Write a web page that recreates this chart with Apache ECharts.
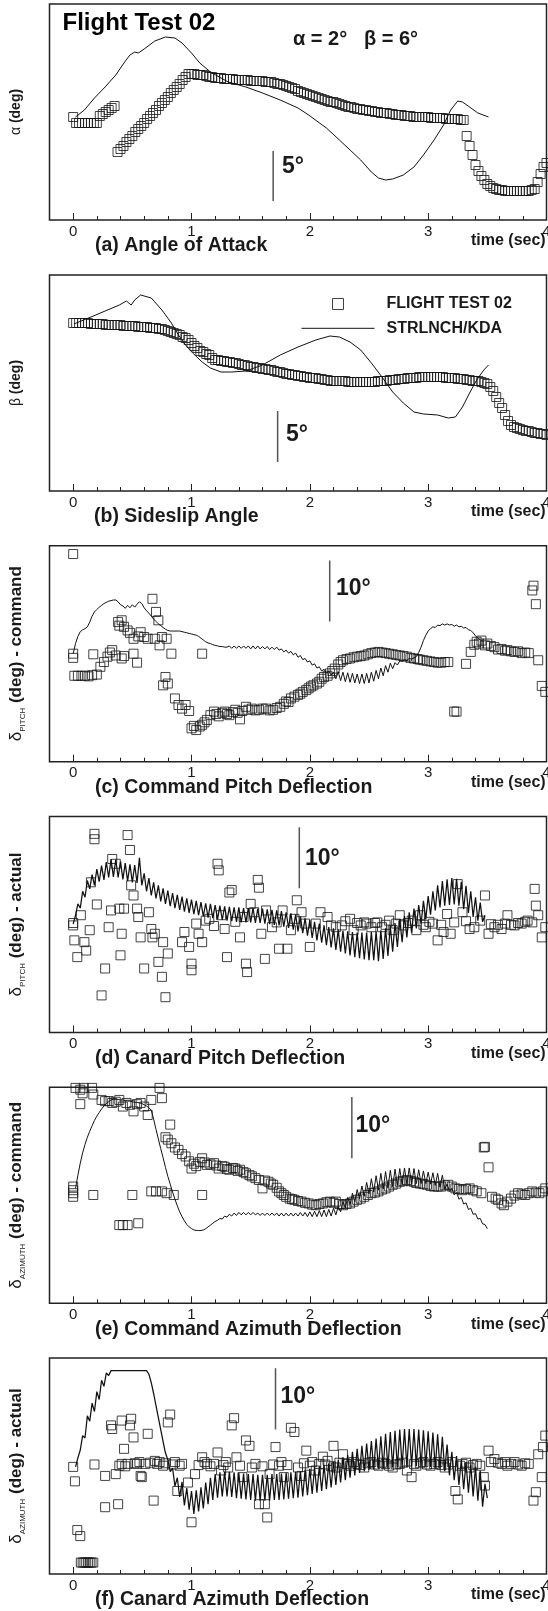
<!DOCTYPE html>
<html>
<head>
<meta charset="utf-8">
<script src="https://cdn.jsdelivr.net/npm/echarts@6.0.0/dist/echarts.min.js"></script>
<style>
  html, body { margin: 0; padding: 0; background: #fff; }
  #main { width: 548px; height: 1611px; }
</style>
</head>
<body>
<div id="main"></div>
<script>
// ---- data (time in sec, angles in deg, relative offsets) ----
var tickMajor = [0, 1, 2, 3, 4];
var tickMinor = [0, 0.2, 0.4, 0.6, 0.8, 1, 1.2, 1.4, 1.6, 1.8, 2, 2.2, 2.4, 2.6, 2.8, 3, 3.2, 3.4, 3.6, 3.8, 4];

// (a) alpha and (b) beta flight data, sampled every 0.025 s from t = 0
var sqT0 = 0, sqDt = 0.025;
var sqA = [10.3, 9.7, 9.7, 9.7, 9.7, 9.7, 9.7, 9.7, 9.7, 10.4, 10.6, 10.8, 11.0, 11.2, 11.4,
  6.8, 7.1, 7.4, 7.8, 8.1, 8.4, 8.8, 9.1, 9.4, 9.7, 10.1, 10.4, 10.7, 11.0, 11.4, 11.7, 12.0, 12.3, 12.7, 13.0, 13.3, 13.6, 14.0, 14.3, 14.6,
  14.6, 14.6, 14.5, 14.5, 14.5, 14.4, 14.3, 14.3, 14.2,
  14.2, 14.2, 14.1, 14.1, 14.1, 14.1, 14.0, 14.0, 14.0, 14.0, 14.0, 13.9,
  13.9, 13.9, 13.9, 13.9, 13.8, 13.8, 13.8, 13.7,
  13.6, 13.6, 13.5, 13.4, 13.3, 13.2, 13.1, 12.9, 12.8, 12.7, 12.6, 12.5, 12.4, 12.3, 12.2, 12.1, 12.0, 11.9, 11.8, 11.8, 11.7, 11.6, 11.5, 11.4, 11.3, 11.3, 11.2, 11.1, 11.1, 11.0, 11.0, 10.9,
  10.9, 10.8, 10.8, 10.7, 10.7, 10.7, 10.6, 10.6, 10.5, 10.5, 10.5, 10.4, 10.4, 10.4, 10.3, 10.3, 10.3, 10.3, 10.3, 10.3, 10.2, 10.2, 10.2, 10.2, 10.2, 10.1, 10.1, 10.1, 10.1, 10.1, 10.0, 10.0,
  8.4, 7.4, 6.5, 5.5, 4.9, 4.4, 4.0, 3.6, 3.4, 3.2, 3.1, 3.0,
  3.0, 2.9, 2.9, 2.9, 2.9, 2.9, 2.9, 2.9, 2.9, 2.9, 3.0,
  3.1, 3.8, 4.6, 5.3, 5.7];
var sqB = [16.8, 16.8, 16.8, 16.8, 16.8, 16.8, 16.7, 16.7, 16.7, 16.7, 16.7, 16.6, 16.6, 16.6, 16.6, 16.6, 16.6,
  16.5, 16.5, 16.5, 16.5, 16.5, 16.4, 16.4, 16.4, 16.4, 16.3, 16.3, 16.3, 16.2, 16.2, 16.1, 16.0,
  15.9, 15.8, 15.7, 15.6, 15.4, 15.3, 15.1, 14.8,
  14.5, 14.3, 14.0, 13.9, 13.7, 13.6, 13.3, 13.1,
  13.1, 13.0, 13.0, 12.9, 12.9, 12.8, 12.8, 12.7, 12.6, 12.6, 12.5, 12.4, 12.4, 12.3, 12.3, 12.2, 12.2, 12.1, 12.1, 12.0,
  11.9, 11.9, 11.8, 11.7, 11.7, 11.6, 11.6, 11.5, 11.5, 11.4, 11.4, 11.3, 11.3, 11.3, 11.2, 11.2, 11.1, 11.1, 11.0, 11.0,
  11.0, 11.0, 11.0, 11.0, 10.9, 10.9, 10.9, 10.9, 10.9, 10.9, 10.9, 10.9, 10.9, 10.9, 11.0, 11.0, 11.0, 11.0, 11.1, 11.1,
  11.1, 11.2, 11.2, 11.2, 11.3, 11.3, 11.3, 11.3, 11.4, 11.4, 11.4, 11.4, 11.4, 11.4, 11.4, 11.4, 11.4, 11.3, 11.3, 11.3,
  11.3, 11.2, 11.2, 11.2, 11.1, 11.1, 11.0, 11.0, 11.0, 10.9, 10.8, 10.7,
  10.4, 10.0, 9.4, 8.8, 8.3, 7.6, 7.0, 6.6,
  6.4, 6.3, 6.2, 6.1, 6.0, 6.0, 5.9, 5.8, 5.8, 5.7, 5.7, 5.6];

// (a), (b) STRLNCH/KDA simulation [t, deg]
var lineA = [[0.02, 10.3], [0.095, 11.0], [0.18, 12.2], [0.27, 13.3], [0.36, 14.5], [0.435, 15.8], [0.48, 16.5], [0.52, 16.8], [0.55, 16.7], [0.6, 17.1], [0.69, 17.9], [0.78, 18.3], [0.86, 18.2], [0.92, 17.7], [1.0, 16.7], [1.07, 15.7], [1.16, 14.8], [1.31, 13.8], [1.46, 13.3], [1.6, 12.7], [1.75, 12.0], [1.9, 11.2], [1.99, 10.5], [2.14, 9.2], [2.25, 8.0], [2.34, 7.0], [2.43, 6.0], [2.52, 4.8], [2.58, 4.2], [2.64, 4.0], [2.7, 4.1], [2.79, 4.5], [2.88, 5.3], [2.96, 6.5], [3.05, 8.0], [3.13, 9.5], [3.19, 11.0], [3.25, 11.9], [3.29, 11.8], [3.35, 11.3], [3.42, 10.7], [3.51, 10.3]];
var lineB = [[0.006, 16.7], [0.15, 17.4], [0.27, 18.0], [0.39, 18.6], [0.45, 19.0], [0.49, 18.6], [0.52, 19.1], [0.57, 19.6], [0.66, 19.3], [0.75, 18.1], [0.83, 16.8], [0.89, 15.6], [0.95, 14.6], [1.01, 13.8], [1.09, 12.9], [1.16, 12.3], [1.25, 11.9], [1.34, 11.9], [1.46, 12.0], [1.6, 12.6], [1.75, 13.6], [1.9, 14.4], [2.05, 15.1], [2.17, 15.5], [2.25, 15.4], [2.34, 14.9], [2.43, 14.1], [2.52, 12.8], [2.61, 11.4], [2.7, 9.9], [2.79, 8.8], [2.88, 7.9], [2.96, 7.7], [3.08, 7.6], [3.17, 7.3], [3.23, 7.4], [3.29, 8.4], [3.35, 9.8], [3.41, 11.1], [3.47, 12.1], [3.51, 12.6]];

// (c)-(f) flight data [t, deg]
var sqC = [[0, 34.8], [0, 18.1], [0, 17.4], [0.01, 14.4], [0.04, 14.4], [0.07, 14.4], [0.1, 14.4], [0.13, 14.3], [0.16, 14.5], [0.17, 18.0], [0.2, 14.6], [0.23, 15.9], [0.26, 16.7], [0.29, 17.6], [0.31, 18.3], [0.33, 18.7], [0.36, 17.8], [0.38, 23.4], [0.39, 22.8], [0.41, 23.7], [0.41, 17.3], [0.43, 22.6], [0.43, 17.7], [0.46, 22.0], [0.48, 21.6], [0.51, 20.6], [0.51, 18.1], [0.54, 16.6], [0.55, 21.0], [0.57, 21.7], [0.6, 20.9], [0.63, 20.6], [0.67, 27.3], [0.69, 20.6], [0.7, 25.1], [0.72, 23.7], [0.73, 19.5], [0.75, 20.9], [0.76, 12.8], [0.78, 14.2], [0.79, 20.6], [0.8, 13.1], [0.83, 18.1], [0.86, 10.6], [0.89, 9.5], [0.92, 8.9], [0.95, 9.5], [0.98, 8.5], [1.0, 5.6], [1.02, 6.0], [1.04, 5.3], [1.07, 5.9], [1.09, 6.2], [1.09, 18.1], [1.11, 6.6], [1.13, 7.0], [1.16, 7.8], [1.19, 8.4], [1.21, 8.0], [1.23, 7.6], [1.26, 8.2], [1.28, 8.4], [1.3, 8.0], [1.32, 7.8], [1.35, 8.3], [1.37, 8.7], [1.39, 8.2], [1.41, 7.1], [1.43, 8.5], [1.46, 9.2], [1.48, 8.7], [1.51, 8.9], [1.54, 8.6], [1.57, 8.7], [1.6, 8.9], [1.63, 8.9], [1.66, 8.6], [1.69, 8.7], [1.72, 9.0], [1.75, 9.2], [1.78, 9.7], [1.8, 10.1], [1.82, 10.0], [1.84, 10.6], [1.87, 10.9], [1.9, 11.2], [1.92, 11.4], [1.94, 11.7], [1.97, 12.0], [1.99, 12.3], [2.01, 12.6], [2.03, 12.8], [2.06, 13.1], [2.08, 13.4], [2.1, 13.9], [2.12, 14.2], [2.15, 14.4], [2.17, 14.8], [2.19, 15.2], [2.21, 15.6], [2.24, 16.3], [2.26, 16.7], [2.28, 17.0], [2.31, 17.2], [2.34, 17.3], [2.37, 17.5], [2.4, 17.6], [2.43, 17.7], [2.46, 17.8], [2.49, 18.0], [2.52, 18.2], [2.55, 18.3], [2.58, 18.4], [2.61, 18.3], [2.64, 18.2], [2.67, 18.1], [2.7, 18.0], [2.73, 17.9], [2.76, 17.8], [2.79, 17.7], [2.82, 17.6], [2.85, 17.4], [2.88, 17.3], [2.91, 17.2], [2.93, 17.1], [2.96, 17.0], [2.99, 16.9], [3.02, 16.8], [3.05, 16.7], [3.08, 16.6], [3.11, 16.6], [3.14, 16.7], [3.17, 16.7], [3.22, 8.4], [3.24, 8.4], [3.32, 16.4], [3.36, 18.4], [3.39, 19.6], [3.41, 20.1], [3.43, 19.8], [3.45, 20.3], [3.48, 19.5], [3.5, 19.8], [3.53, 19.4], [3.56, 19.2], [3.59, 18.8], [3.62, 18.9], [3.65, 18.6], [3.67, 18.7], [3.7, 18.5], [3.73, 18.4], [3.76, 18.5], [3.79, 18.2], [3.82, 18.3], [3.85, 18.2], [3.88, 28.7], [3.89, 29.5], [3.91, 26.4], [3.93, 17.0], [3.96, 12.7], [3.99, 11.7]];
var sqD = [[0, 17.9], [0, 18.3], [0.01, 15.4], [0.035, 12.6], [0.065, 19.6], [0.095, 15.1], [0.11, 13.7], [0.14, 17.1], [0.15, 25.1], [0.18, 33.2], [0.18, 32.3], [0.2, 21.4], [0.24, 6.2], [0.27, 10.7], [0.3, 17.6], [0.32, 20.4], [0.33, 29.0], [0.36, 28.2], [0.39, 20.7], [0.4, 12.9], [0.41, 16.5], [0.43, 20.7], [0.46, 33.0], [0.48, 30.5], [0.49, 24.6], [0.51, 22.9], [0.54, 20.7], [0.55, 19.3], [0.57, 15.9], [0.6, 10.7], [0.64, 20.1], [0.66, 17.3], [0.67, 15.9], [0.69, 16.5], [0.72, 11.8], [0.75, 9.3], [0.76, 15.1], [0.78, 5.9], [0.8, 13.2], [0.92, 15.1], [0.94, 16.8], [0.98, 14.3], [1.0, 11.5], [1.0, 10.4], [1.04, 18.2], [1.06, 16.5], [1.09, 15.1], [1.12, 18.7], [1.15, 19.0], [1.19, 17.8], [1.22, 28.2], [1.23, 27.1], [1.25, 19.6], [1.28, 17.3], [1.3, 12.6], [1.32, 23.4], [1.34, 23.8], [1.37, 18.5], [1.41, 15.9], [1.44, 19.3], [1.46, 11.5], [1.47, 10.1], [1.5, 21.5], [1.53, 20.1], [1.56, 25.5], [1.57, 24.2], [1.59, 16.5], [1.62, 12.3], [1.63, 20.4], [1.68, 17.6], [1.72, 18.4], [1.74, 14.0], [1.77, 20.4], [1.81, 14.0], [1.84, 17.1], [1.87, 19.0], [1.89, 22.1], [1.93, 20.1], [1.96, 18.2], [2.0, 14.3], [2.05, 18.2], [2.09, 20.1], [2.15, 19.3], [2.18, 17.9], [2.22, 17.6], [2.27, 17.9], [2.3, 18.6], [2.34, 19.0], [2.37, 17.1], [2.4, 18.3], [2.43, 17.9], [2.46, 18.4], [2.48, 18.2], [2.52, 17.6], [2.55, 18.3], [2.57, 18.4], [2.61, 17.6], [2.64, 18.0], [2.67, 18.7], [2.7, 17.1], [2.73, 18.2], [2.76, 19.6], [2.79, 17.9], [2.83, 18.3], [2.86, 18.7], [2.9, 17.1], [2.93, 19.6], [2.96, 18.0], [2.98, 17.6], [3.01, 18.5], [3.04, 18.2], [3.08, 15.4], [3.11, 18.0], [3.13, 16.8], [3.16, 19.8], [3.19, 16.5], [3.22, 18.4], [3.25, 24.8], [3.29, 20.1], [3.32, 18.6], [3.35, 17.3], [3.39, 17.6], [3.44, 18.7], [3.48, 22.9], [3.51, 16.5], [3.53, 18.1], [3.56, 17.6], [3.59, 18.0], [3.62, 17.3], [3.65, 18.2], [3.67, 19.6], [3.7, 18.0], [3.73, 17.9], [3.76, 18.3], [3.79, 18.2], [3.82, 18.5], [3.84, 18.7], [3.88, 18.4], [3.9, 24.0], [3.91, 21.2], [3.93, 19.6], [3.96, 15.9], [3.99, 17.6]];
var sqE = [[0, 19.4], [0, 18.8], [0, 18.3], [0, 17.7], [0.02, 35.8], [0.06, 35.5], [0.09, 35.8], [0.16, 35.8], [0.06, 33.1], [0.08, 34.9], [0.17, 34.7], [0.17, 18.0], [0.24, 33.8], [0.27, 33.6], [0.3, 33.6], [0.33, 33.3], [0.36, 33.5], [0.39, 33.8], [0.42, 32.7], [0.45, 33.3], [0.48, 33.0], [0.5, 18.0], [0.51, 31.9], [0.54, 33.1], [0.57, 33.3], [0.6, 32.7], [0.63, 31.3], [0.66, 33.8], [0.66, 18.6], [0.7, 18.6], [0.73, 35.8], [0.75, 34.1], [0.75, 18.6], [0.79, 18.3], [0.85, 18.0], [1.09, 18.0], [0.39, 13.0], [0.42, 13.0], [0.46, 13.0], [0.55, 13.3], [0.82, 29.7], [0.78, 27.6], [0.8, 27.2], [0.83, 26.6], [0.86, 25.9], [0.89, 25.5], [0.92, 24.8], [0.95, 24.4], [0.98, 23.6], [1.0, 22.4], [1.02, 23.2], [1.04, 22.8], [1.07, 23.5], [1.09, 24.1], [1.11, 23.4], [1.13, 23.0], [1.16, 23.1], [1.19, 23.3], [1.21, 22.9], [1.23, 22.4], [1.26, 22.8], [1.28, 22.7], [1.3, 22.3], [1.32, 22.2], [1.35, 22.5], [1.37, 22.4], [1.39, 22.0], [1.41, 22.2], [1.44, 21.8], [1.46, 21.6], [1.49, 21.3], [1.51, 21.1], [1.54, 20.8], [1.57, 20.5], [1.6, 19.1], [1.62, 20.4], [1.65, 20.2], [1.67, 19.9], [1.69, 19.7], [1.72, 19.2], [1.74, 18.6], [1.76, 18.3], [1.78, 18.0], [1.8, 17.7], [1.83, 17.4], [1.85, 17.3], [1.87, 17.2], [1.9, 17.0], [1.93, 16.9], [1.96, 16.7], [1.99, 16.6], [2.02, 16.4], [2.05, 16.3], [2.08, 16.5], [2.11, 16.6], [2.14, 16.8], [2.17, 16.9], [2.2, 16.7], [2.22, 16.9], [2.25, 16.5], [2.28, 16.3], [2.31, 16.5], [2.34, 16.6], [2.37, 16.9], [2.4, 17.2], [2.43, 17.4], [2.46, 17.7], [2.49, 18.0], [2.52, 18.3], [2.55, 18.4], [2.58, 18.6], [2.61, 18.9], [2.64, 19.1], [2.67, 19.4], [2.7, 19.7], [2.73, 19.9], [2.76, 20.2], [2.79, 20.3], [2.82, 20.5], [2.85, 20.3], [2.88, 20.2], [2.9, 20.0], [2.93, 19.9], [2.96, 19.8], [2.99, 19.7], [3.02, 19.5], [3.05, 19.4], [3.08, 19.4], [3.11, 19.4], [3.14, 19.6], [3.17, 19.7], [3.2, 19.4], [3.23, 19.1], [3.26, 19.0], [3.29, 18.8], [3.32, 19.0], [3.35, 19.1], [3.38, 18.8], [3.41, 18.6], [3.45, 18.3], [3.47, 25.9], [3.48, 26.0], [3.51, 22.6], [3.54, 17.7], [3.57, 17.4], [3.59, 17.2], [3.62, 16.6], [3.64, 16.3], [3.67, 16.9], [3.7, 17.4], [3.73, 17.9], [3.76, 18.3], [3.79, 18.1], [3.82, 18.0], [3.85, 18.3], [3.88, 18.6], [3.91, 18.4], [3.94, 18.3], [3.97, 18.6], [3.99, 19.1]];
var sqF = [[0, 17.8], [0.015, 15.4], [0.035, 7.3], [0.06, 6.3], [0.065, 1.9], [0.08, 1.9], [0.095, 1.9], [0.11, 1.9], [0.125, 1.9], [0.14, 1.9], [0.155, 1.9], [0.17, 1.9], [0.18, 18.2], [0.27, 11.1], [0.27, 16.3], [0.32, 24.7], [0.33, 24.1], [0.36, 16.6], [0.38, 11.6], [0.39, 18.0], [0.41, 18.3], [0.41, 25.5], [0.43, 20.8], [0.44, 17.9], [0.46, 18.3], [0.48, 24.7], [0.49, 25.8], [0.51, 22.7], [0.52, 18.4], [0.54, 18.3], [0.56, 18.6], [0.57, 16.3], [0.58, 16.1], [0.61, 18.3], [0.63, 23.3], [0.65, 18.5], [0.68, 12.2], [0.69, 18.8], [0.71, 18.3], [0.73, 18.6], [0.76, 18.0], [0.78, 18.4], [0.8, 25.2], [0.82, 26.5], [0.84, 18.2], [0.86, 18.6], [0.88, 13.8], [0.9, 18.0], [0.92, 18.3], [0.97, 15.2], [1.0, 8.6], [1.03, 16.6], [1.06, 18.1], [1.09, 19.4], [1.11, 18.6], [1.13, 18.3], [1.16, 17.9], [1.19, 18.3], [1.22, 20.2], [1.25, 17.2], [1.27, 18.1], [1.29, 18.6], [1.31, 17.7], [1.34, 24.7], [1.36, 25.9], [1.38, 19.4], [1.41, 18.0], [1.43, 16.1], [1.46, 22.2], [1.49, 21.3], [1.51, 17.7], [1.54, 18.3], [1.57, 11.6], [1.6, 17.9], [1.62, 11.6], [1.64, 9.4], [1.66, 16.6], [1.69, 18.2], [1.71, 21.1], [1.74, 18.0], [1.76, 18.6], [1.78, 16.1], [1.81, 18.1], [1.84, 24.3], [1.87, 23.6], [1.9, 17.7], [1.93, 16.3], [1.95, 18.4], [1.97, 20.5], [2.0, 18.0], [2.02, 18.6], [2.05, 17.2], [2.08, 18.3], [2.11, 19.5], [2.13, 18.2], [2.15, 18.8], [2.18, 17.9], [2.2, 21.3], [2.22, 17.7], [2.25, 18.5], [2.28, 19.9], [2.31, 18.3], [2.34, 18.0], [2.37, 18.6], [2.4, 18.3], [2.43, 18.1], [2.46, 17.7], [2.49, 18.4], [2.52, 18.6], [2.55, 18.2], [2.58, 18.0], [2.61, 18.5], [2.64, 18.3], [2.67, 18.0], [2.7, 17.7], [2.73, 18.2], [2.76, 18.3], [2.79, 18.5], [2.82, 17.2], [2.86, 16.1], [2.88, 18.3], [2.9, 18.0], [2.93, 18.4], [2.96, 18.6], [2.99, 18.2], [3.02, 18.0], [3.05, 18.3], [3.08, 18.6], [3.11, 18.1], [3.14, 17.7], [3.17, 18.2], [3.2, 18.6], [3.23, 13.8], [3.25, 12.4], [3.27, 18.0], [3.29, 18.3], [3.32, 18.5], [3.35, 17.7], [3.38, 18.1], [3.41, 18.3], [3.44, 18.0], [3.47, 16.1], [3.48, 14.7], [3.51, 20.5], [3.53, 18.6], [3.56, 19.1], [3.59, 18.5], [3.62, 18.3], [3.65, 18.6], [3.67, 18.0], [3.7, 18.3], [3.73, 18.6], [3.76, 18.2], [3.79, 18.0], [3.82, 18.4], [3.85, 18.3], [3.89, 12.2], [3.91, 13.6], [3.93, 19.9], [3.96, 16.1], [3.97, 21.1], [3.99, 23.0]];

// (c)-(f) simulation, sampled every 0.02 s
var lnDt = 0.02;
var lineCT0 = 0;
var lineC = [18.1, 19.8, 21.0, 21.8, 22.1, 22.3, 22.6, 23.4, 24.4, 25.1, 25.5, 25.9, 26.2, 26.5, 26.7, 26.9, 27.0, 27.1, 27.1, 26.8, 26.3,
  26.1, 25.7, 26.2, 25.8, 26.3, 25.9, 26.4, 26.8, 26.5, 25.8, 25.3, 24.9, 24.4, 23.9, 23.5, 23.1, 22.8, 22.5, 22.2, 22.0,
  21.9, 21.9, 21.9, 21.9, 21.9, 21.8, 21.7, 21.6, 21.5, 21.4, 21.3, 21.2, 21.0, 20.7, 20.4, 20.1, 19.9, 19.8,
  19.6, 19.5, 19.4, 19.3, 19.3, 19.2, 19.2,
  19.4, 19.0, 19.4, 19.0, 19.4, 19.0, 19.4, 19.0, 19.4, 18.9, 19.4, 18.9, 19.4, 18.9, 19.3, 18.9, 19.3, 18.8, 19.2, 18.8, 19.2, 18.7,
  18.9, 18.4, 18.7, 18.2, 18.5, 17.9, 18.2, 17.5, 17.8, 17.1, 17.3, 16.7, 16.9, 16.2, 16.4, 15.7, 15.9, 15.2, 15.5, 14.8, 15.2, 14.5, 15.0,
  13.9, 15.1, 13.6, 15.0, 13.4, 14.9, 13.3, 14.8, 13.2, 14.7, 13.1, 14.7, 13.1, 14.8, 13.2, 15.0, 13.5, 15.3, 13.9, 15.7, 14.4, 16.1, 15.0, 16.5, 15.6,
  16.6, 16.2, 16.9, 16.8, 17.1, 17.0, 17.3, 17.2, 17.4, 17.6, 18.3, 19.2, 20.3, 21.2,
  21.9, 22.3, 22.6, 22.5, 22.9, 22.8, 23.1, 22.9, 23.1, 22.9, 23.0, 22.7, 22.9, 22.6, 22.7, 22.4, 22.5, 22.1, 22.0,
  21.6, 21.1, 20.7, 20.4, 20.2];
var lineDT0 = 0;
var lineD = [18.1, 19.6, 21.5, 20.8, 23.6, 22.6, 25.4, 24.0, 26.4, 24.6, 27.3,
  25.2, 27.9, 25.5, 28.5, 25.9, 29.0, 26.0, 28.9, 25.9, 28.6, 25.6, 28.3, 25.3, 28.1, 25.1, 28.0, 25.0, 29.2, 24.6,
  26.6, 23.6, 25.8, 22.9, 25.1, 22.4, 24.6, 21.9, 24.1, 21.5, 23.7, 21.1, 23.3, 20.8, 23.0, 20.5, 22.7, 20.2, 22.4, 20.0, 22.2,
  19.8, 22.0, 19.6, 21.8, 19.4, 21.6, 19.2, 21.5, 19.1, 21.3, 18.9, 21.2, 18.8, 21.1, 18.7, 21.0, 18.6, 20.9, 18.5, 20.9, 18.4, 20.8, 18.4, 20.8, 18.4,
  20.8, 18.3, 20.7, 18.3, 20.7, 18.2, 20.6, 18.1, 20.5, 18.0, 20.4, 17.9, 20.3, 17.7, 20.1, 17.5, 19.9, 17.2, 19.7, 16.9, 19.4, 16.6, 19.1, 16.2, 18.8,
  15.8, 18.5, 15.4, 18.2, 15.0, 17.9, 14.6, 17.6, 14.2, 17.4, 13.8, 17.2, 13.5, 17.0, 13.2, 16.9, 12.9, 16.8, 12.6, 16.7, 12.4, 16.7, 12.2, 16.7, 12.1,
  16.8, 12.1, 16.9, 11.9, 17.1, 12.3, 17.4, 12.8, 17.8, 13.5, 18.3, 14.3, 18.9, 15.1, 19.5, 15.9, 20.1, 16.7, 20.7, 17.4, 21.3, 18.1, 22.0, 18.9, 22.8,
  19.7, 23.6, 20.4, 24.6, 20.9, 25.3, 21.2, 25.6, 21.3, 25.8, 21.4, 25.7, 21.2, 25.2, 20.6, 24.5, 20.0, 23.6, 19.3, 22.6, 18.7, 21.7, 18.5, 19.6];
var lineET0 = 0.02;
var lineE = [19.1, 21.3, 23.3, 25.0, 26.4, 27.6, 28.6, 29.5, 30.4, 31.1, 31.7, 32.3, 32.8, 33.2, 33.5, 33.8, 33.9, 33.9,
  33.9, 33.8, 33.8, 33.7, 33.6, 33.6, 33.5, 33.4, 33.4, 33.3,
  33.2, 33.0, 32.8, 32.5, 32.1, 30.6, 28.9, 27.3, 25.7, 24.2, 22.6, 21.1, 19.8, 18.5, 17.3, 16.2, 15.2, 14.4, 13.7, 13.1, 12.7, 12.4, 12.2, 12.1, 12.1, 12.1, 12.2, 12.4, 12.7, 13.0, 13.3, 13.6, 13.8,
  14.1, 14.0, 14.5, 14.3, 14.8, 14.5, 15.0, 14.6, 15.1, 14.7, 15.1, 14.7, 15.1, 14.7, 15.1, 14.7, 15.0, 14.6, 15.0, 14.6, 15.0, 14.6, 15.0, 14.6, 15.0,
  14.5, 15.0, 14.5, 15.0, 14.5, 15.0, 14.5, 15.0, 14.5, 15.1, 14.5, 15.1, 14.4, 15.2, 14.4, 15.3, 14.4, 15.4, 14.4, 15.5, 14.4, 15.6, 14.5, 15.8, 14.7, 16.1,
  15.2, 16.9, 15.8, 17.6, 16.4, 18.3, 16.9, 18.9, 17.4, 19.5, 17.8, 20.1, 18.2,
  20.7, 18.5, 21.2, 18.8, 21.6, 19.0, 21.9, 19.2, 22.1, 19.4, 22.3, 19.6, 22.4, 19.7, 22.5, 19.8, 22.5, 19.8, 22.4, 19.9, 22.2, 19.9, 22.0, 19.9, 21.8, 19.8, 21.7, 19.6, 21.6, 19.3, 21.3, 19.0,
  19.8, 18.6, 19.1, 18.0, 18.4, 17.3, 17.6, 16.5, 16.7, 15.6, 15.8, 14.8, 14.9, 14.0, 14.1, 13.2, 13.1, 12.4];
var lineFT0 = 0.02;
var lineF = [17.8, 19.3, 20.6, 23.0, 22.6, 26.3, 25.4, 28.4, 27.0, 30.3, 29.0, 32.2, 31.2, 33.4, 33.0, 33.8,
  33.8, 33.8, 33.8, 33.8, 33.8, 33.8, 33.8, 33.8, 33.8, 33.8, 33.8, 33.8, 33.8, 33.8, 33.8,
  33.2, 31.8, 30.0, 28.0, 26.0, 24.0, 22.0, 20.1,
  19.0, 17.0, 17.6, 14.6, 16.0, 12.8, 15.3, 11.4, 14.3, 10.7, 13.8, 10.0, 13.9, 10.4, 14.4, 10.9, 15.2, 11.6, 16.0, 12.3, 16.6, 12.7, 16.9, 12.9, 17.0, 12.9, 17.0, 12.8,
  16.9, 12.6, 16.8, 12.5, 16.7, 12.4, 16.6, 12.3, 16.6, 12.2, 16.5, 12.2, 16.5, 12.2, 16.5, 12.2, 16.6, 12.3, 16.6, 12.3, 16.7, 12.4, 16.8, 12.5, 16.9, 12.6, 17.0, 12.7, 17.1, 12.9, 17.3, 13.1, 17.5, 13.3, 17.7, 13.5, 17.9, 13.8, 18.1, 14.1, 18.4, 14.4, 18.7,
  14.8, 19.0, 15.2, 19.4, 15.6, 19.8, 16.0, 20.3, 16.4, 20.8, 16.8, 21.3, 17.1, 21.7, 17.3, 22.1, 17.4, 22.5, 17.5, 22.9,
  17.6, 23.3, 17.6, 23.6, 17.7, 23.8, 17.7, 24.0, 17.8, 24.1, 17.8, 24.1, 17.9, 24.1, 17.9, 24.0, 17.9, 23.9, 17.9, 23.7, 17.8, 23.5, 17.6, 23.2, 17.4, 22.8, 17.1,
  21.5, 16.4, 20.3, 15.6, 19.6, 14.8, 19.0, 14.1, 18.6, 13.5, 18.2, 12.9, 17.8, 12.2, 17.2, 11.2, 15.0, 12.6];

// scale bars [t, from, to]
var scaleBars = [[1.69, 1.9, 6.9], [1.728, 2.9, 8.0], [2.168, 23.5, 33.7], [1.911, 24.1, 34.3], [2.355, 24.1, 34.3], [1.71, 24.0, 34.2]];
var scaleText = ['5°', '5°', '10°', '10°', '10°', '10°'];

var panelTitles = ['(a) Angle of Attack', '(b) Sideslip Angle', '(c) Command Pitch Deflection',
  '(d) Canard Pitch Deflection', '(e) Command Azimuth Deflection', '(f) Canard Azimuth Deflection'];
var axisSym = ['α', 'β', 'δ', 'δ', 'δ', 'δ'];
var axisSub = ['', '', 'PITCH', 'PITCH', 'AZIMUTH', 'AZIMUTH'];
var axisRest = ['(deg)', '(deg)', '(deg) - command', '(deg) - actual', '(deg) - command', '(deg) - actual'];

// ---- layout ----
var FONT = '"Liberation Sans", Arial, Helvetica, sans-serif';
var INK = '#1a1a1a';
var gridTops = [4, 275, 545.7, 816.5, 1087.3, 1358];
var gridH = 216;
var yMax = [21.6, 21.6, 36.2, 36.1, 35.9, 35.9];
var lineWidths = [1, 1, 1, 1.25, 1, 1.25];
var scaleLabelPos = [[282, 166.7], [286, 435], [336, 588.8], [305, 859], [355.5, 1126], [280.5, 1396.7]];
var titleLeft = [95, 94, 95, 95, 95, 95];

function uniform(t0, dt, vals) {
  return vals.map(function (v, i) { return [+(t0 + i * dt).toFixed(4), v]; });
}
var squares = [uniform(sqT0, sqDt, sqA), uniform(sqT0, sqDt, sqB), sqC, sqD, sqE, sqF];
var lines = [lineA, lineB, uniform(lineCT0, lnDt, lineC), uniform(lineDT0, lnDt, lineD),
  uniform(lineET0, lnDt, lineE), uniform(lineFT0, lnDt, lineF)];

var chartDom = document.getElementById('main');
var myChart = echarts.init(chartDom);
var option;

var grids = [], xAxes = [], yAxes = [], series = [], titles = [];

for (var p = 0; p < 6; p++) {
  var bottom = gridTops[p] + gridH;
  var fs = p >= 2 ? 17 : 14;
  grids.push({
    left: 49.5, top: gridTops[p], width: 497, height: gridH,
    show: true, borderColor: '#222', borderWidth: 1.5, backgroundColor: 'transparent',
    containLabel: false, outerBoundsMode: 'none'
  });
  // short ticks every 0.2 s with labels
  xAxes.push({
    type: 'value', gridIndex: p, position: 'bottom', min: -0.2, max: 4, minInterval: 1, maxInterval: 1,
    axisLine: { show: false },
    splitLine: { show: false },
    axisTick: { show: true, inside: true, length: 4, customValues: tickMinor, lineStyle: { color: '#222', width: 1 } },
    axisLabel: { customValues: tickMajor, margin: 4, fontSize: 15, fontFamily: FONT, color: INK }
  });
  // longer ticks on whole seconds
  xAxes.push({
    type: 'value', gridIndex: p, position: 'bottom', offset: 0, min: -0.2, max: 4, minInterval: 1, maxInterval: 1,
    axisLine: { show: false },
    splitLine: { show: false },
    axisTick: { show: true, inside: true, length: 7, customValues: tickMajor, lineStyle: { color: '#222', width: 1 } },
    axisLabel: { show: false }
  });
  yAxes.push({
    type: 'value', gridIndex: p, min: 0, max: yMax[p],
    axisLine: { show: false }, axisTick: { show: false }, axisLabel: { show: false }, splitLine: { show: false },
    name: '{g|' + axisSym[p] + '}' + (axisSub[p] ? '{s|' + axisSub[p] + '}' : '') + '{b| ' + axisRest[p] + '}',
    nameLocation: 'middle', nameRotate: 90, nameGap: 23,
    nameTextStyle: {
      rich: {
        g: { fontSize: fs, fontFamily: FONT, color: INK, lineHeight: 20 },
        s: { fontSize: 8, fontFamily: FONT, color: INK, verticalAlign: 'bottom' },
        b: { fontSize: fs, fontWeight: 'bold', fontFamily: FONT, color: INK, lineHeight: 20 }
      }
    }
  });

  series.push({
    name: 'FLIGHT TEST 02', type: 'scatter', xAxisIndex: 2 * p, yAxisIndex: p,
    data: squares[p], symbol: 'rect', symbolSize: 9, silent: true,
    itemStyle: { color: 'rgba(0,0,0,0)', borderColor: '#151515', borderWidth: 1 }
  });
  series.push({
    name: 'STRLNCH/KDA', type: 'line', xAxisIndex: 2 * p, yAxisIndex: p,
    data: lines[p], showSymbol: false, symbol: 'none', silent: true,
    itemStyle: { color: 'rgba(0,0,0,0)' },
    lineStyle: { color: '#111', width: lineWidths[p] }
  });
  series.push({
    name: 'scale', type: 'line', xAxisIndex: 2 * p, yAxisIndex: p, silent: true,
    data: [[scaleBars[p][0], scaleBars[p][1]], [scaleBars[p][0], scaleBars[p][2]]],
    showSymbol: false, symbol: 'none', lineStyle: { color: '#555', width: 1.5 }
  });

  titles.push({
    text: panelTitles[p], left: titleLeft[p], top: bottom + 26 - 10, padding: 0,
    textStyle: { fontSize: 19.5, lineHeight: 20, fontWeight: 'bold', fontFamily: FONT, color: INK }
  });
  titles.push({
    text: 'time (sec)', left: 471, top: bottom + 21 - 8, padding: 0,
    textStyle: { fontSize: 16, lineHeight: 16, fontWeight: 'bold', fontFamily: FONT, color: INK }
  });
  titles.push({
    text: scaleText[p], left: scaleLabelPos[p][0], top: scaleLabelPos[p][1] - 11.5, padding: 0,
    textStyle: { fontSize: 23, lineHeight: 23, fontWeight: 'bold', fontFamily: FONT, color: INK }
  });
}

titles.push({
  text: 'Flight Test 02', left: 62.5, top: 11.7, padding: 0,
  textStyle: { fontSize: 24, lineHeight: 24, fontWeight: 'bold', fontFamily: FONT, color: '#000' }
});
titles.push({
  text: '{g|α}{b| = 2°   }{g|β}{b| = 6°}', left: 293, top: 29.4, padding: 0,
  textStyle: {
    lineHeight: 20,
    rich: {
      g: { fontSize: 20, fontFamily: FONT, color: INK, lineHeight: 20 },
      b: { fontSize: 20, fontWeight: 'bold', fontFamily: FONT, color: INK, lineHeight: 20 }
    }
  }
});

option = {
  animation: false,
  backgroundColor: '#fff',
  title: titles,
  legend: {
    data: [
      { name: 'FLIGHT TEST 02', icon: 'path://M0,0H10V10H0Z' },
      { name: 'STRLNCH/KDA' }
    ],
    orient: 'vertical', left: 301, top: 296, padding: 0,
    itemWidth: 73, itemHeight: 11, itemGap: 8.3, selectedMode: false, symbolKeepAspect: true,
    itemStyle: { borderWidth: 1 },
    lineStyle: { width: 1 },
    textStyle: { fontSize: 16, fontWeight: 'bold', fontFamily: FONT, color: INK, padding: [0, 0, 0, 7] }
  },
  grid: grids,
  xAxis: xAxes,
  yAxis: yAxes,
  series: series
};

myChart.setOption(option);
</script>
</body>
</html>
